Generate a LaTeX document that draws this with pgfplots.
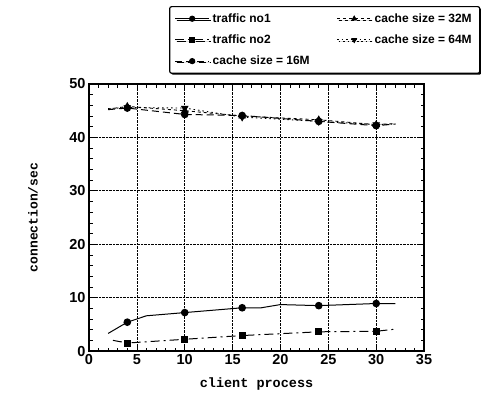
\documentclass[border=0pt]{standalone}
\usepackage{fontspec}
\setmainfont{Liberation Sans}
\newfontfamily\monofont{Liberation Mono}
\usepackage{pgfplots}
\pgfplotsset{compat=1.18}
\usetikzlibrary{shadows}
\begin{document}
\begin{tikzpicture}
\begin{axis}[
 scale only axis, width=335pt, height=267pt,
 xmin=0, xmax=35, ymin=0, ymax=50,
 xtick={0,5,...,35}, ytick={0,10,...,50},
 minor x tick num=4, minor y tick num=4,
 grid=major, major grid style={black, densely dotted, line width=0.7pt},
 tick align=inside, major tick length=6pt, minor tick length=3.5pt,
 axis line style={line width=1.3pt},
 every tick/.style={black, line width=0.7pt},
 tick label style={font=\fontsize{14.5}{16}\selectfont\bfseries},
 /pgf/number format/assume math mode=true,
 xlabel={client process}, ylabel={connection/sec},
 xlabel style={font=\fontsize{13.5}{15}\selectfont\monofont\bfseries, at={(axis description cs:0.5,-0.124)}, anchor=center},
 ylabel style={font=\fontsize{13}{15}\selectfont\monofont\bfseries, at={(axis description cs:-0.167,0.5)}, anchor=center},
 clip=false,
 legend columns=2,
 legend cell align=left,
 legend image code/.code={\draw[mark indices={2}, mark size=2.6pt] plot coordinates {(0pt,0pt)(17pt,0pt)(34pt,0pt)};},
 legend style={at={(rel axis cs:0.239,1.292)}, anchor=north west, draw=black, line width=1.2pt, rounded corners=2pt,
   fill=white, drop shadow={shadow xshift=1.5pt, shadow yshift=-1.5pt, fill=black, opacity=1},
   font=\fontsize{12}{13.5}\selectfont\bfseries, row sep=7pt, inner xsep=5pt, inner ysep=5pt,
   nodes={inner xsep=3pt},
   /tikz/every even column/.append style={column sep=24pt}},
]
\path (rel axis cs:-0.2657,-0.187) rectangle (rel axis cs:1.170,1.3146);

\addplot[black, line width=1pt, mark=*, mark size=3.3pt, mark indices={2,4,5,8,9}, mark options={solid}]
 coordinates {(2,3.3)(4,5.4)(6,6.6)(10,7.2)(16,8.1)(18,8.1)(20,8.7)(24,8.5)(30,8.9)(32,8.9)};
\addlegendentry{traffic no1}

\addplot[black, line width=0.9pt, dash pattern=on 3pt off 3pt, mark=triangle*, mark size=3.6pt, mark indices={2,3,4,5,6}, mark options={solid}]
 coordinates {(2,45.3)(4,45.8)(10,45.0)(16,44.0)(24,43.3)(30,42.4)(32,42.6)};
\addlegendentry{cache size = 32M}

\addplot[black, line width=1pt, dash pattern=on 9pt off 4pt on 2pt off 4pt, mark=square*, mark size=3pt, mark indices={2,3,4,5,6}, mark options={solid}]
 coordinates {(2.5,2.0)(4,1.5)(10,2.2)(16,2.9)(24,3.6)(30,3.7)(32,4.1)};
\addlegendentry{traffic no2}

\addplot[black, line width=0.9pt, dash pattern=on 1.5pt off 3pt, mark=triangle*, mark size=3.6pt, mark indices={2,3,4,5,6}, mark options={solid, rotate=180}]
 coordinates {(2,45.4)(4,45.6)(10,45.5)(16,43.8)(24,43.0)(30,42.4)(32,42.5)};
\addlegendentry{cache size = 64M}

\addplot[black, line width=1pt, dash pattern=on 7pt off 4pt, mark=*, mark size=3.3pt, mark indices={2,3,4,5,6}, mark options={solid}]
 coordinates {(2,45.2)(4,45.5)(10,44.3)(16,44.1)(24,43.0)(30,42.2)(32,42.5)};
\addlegendentry{cache size = 16M}
\end{axis}
\end{tikzpicture}
\end{document}
